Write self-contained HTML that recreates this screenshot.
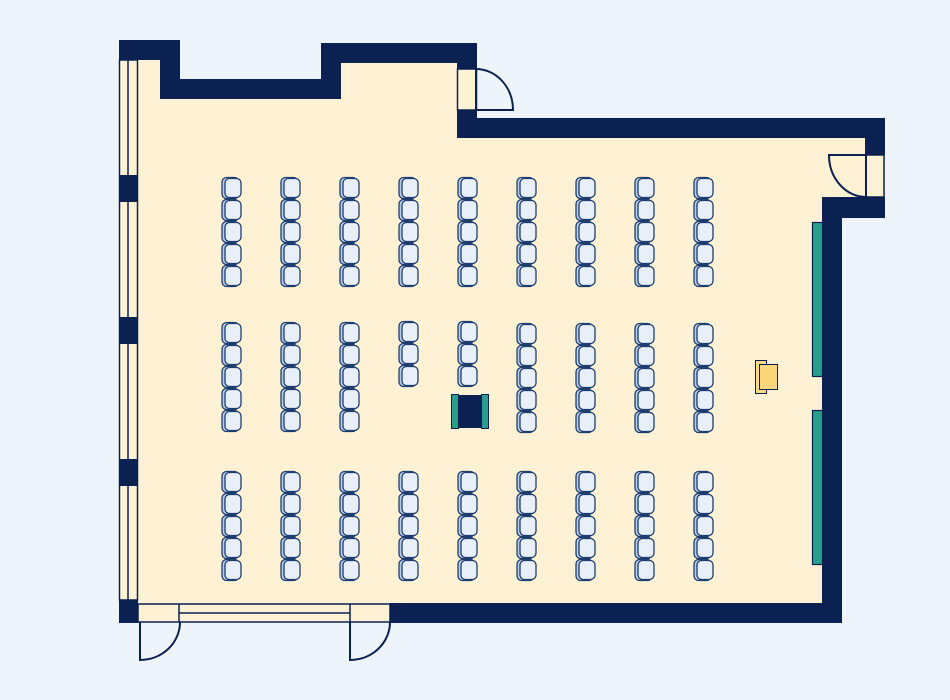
<!DOCTYPE html>
<html><head><style>html,body{margin:0;padding:0;background:#eef4fb;}svg{display:block}</style></head>
<body>
<svg width="950" height="700" viewBox="0 0 950 700" xmlns="http://www.w3.org/2000/svg">
<rect width="950" height="700" fill="#eef4fb"/>
<polygon points="138,60 160,60 160,99 340,99 340,63 457,63 457,138 865,138 865,198 822,198 822,603 138,603" fill="#fff2d4"/>
<g fill="#0b2151">
<rect x="119" y="40" width="61" height="20"/>
<rect x="160" y="40" width="20" height="59"/>
<rect x="160" y="79" width="181" height="20"/>
<rect x="321" y="43" width="20" height="56"/>
<rect x="321" y="43" width="156" height="20"/>
<rect x="457" y="43" width="20" height="26"/>
<rect x="457" y="110" width="20" height="28"/>
<rect x="457" y="118" width="428" height="20"/>
<rect x="865" y="118" width="20" height="37"/>
<rect x="822" y="197" width="63" height="21"/>
<rect x="822" y="197" width="20" height="426"/>
<rect x="390" y="603" width="452" height="20"/>
<rect x="119" y="600" width="19" height="23"/>
</g>
<rect x="119.5" y="60" width="18" height="540" fill="#fff2d4" stroke="#0b2151" stroke-width="1.5"/>
<line x1="128" y1="60" x2="128" y2="600" stroke="#0b2151" stroke-width="1.5"/>
<g fill="#0b2151">
<rect x="119" y="175" width="19" height="27"/>
<rect x="119" y="317" width="19" height="27"/>
<rect x="119" y="459" width="19" height="27"/>
</g>
<rect x="457.5" y="69" width="19" height="41" fill="#fff2d4" stroke="#0b2151" stroke-width="1.5"/>
<path d="M476,69 L476,110 L513,110 A37,41 0 0 0 476,69" fill="none" stroke="#0b2151" stroke-width="2"/>
<rect x="866" y="155" width="18" height="42" fill="#fff2d4" stroke="#0b2151" stroke-width="1.5"/>
<path d="M866,197 L866,155 L829,155 A37,42 0 0 0 866,197" fill="none" stroke="#0b2151" stroke-width="2"/>
<rect x="138" y="604" width="252" height="18" fill="#fff2d4" stroke="#0b2151" stroke-width="1.5"/>
<line x1="179" y1="613" x2="350" y2="613" stroke="#0b2151" stroke-width="1.5"/>
<line x1="179" y1="604" x2="179" y2="622" stroke="#0b2151" stroke-width="1.5"/>
<line x1="350" y1="604" x2="350" y2="622" stroke="#0b2151" stroke-width="1.5"/>
<path d="M140,622 L140,660 A40,38 0 0 0 180,622" fill="none" stroke="#0b2151" stroke-width="2"/>
<path d="M350,622 L350,660 A40,38 0 0 0 390,622" fill="none" stroke="#0b2151" stroke-width="2"/>
<rect x="812.5" y="222.5" width="10" height="154" fill="#2a9d8f" stroke="#0b2151" stroke-width="1.2"/>
<rect x="812.5" y="410.5" width="10" height="154" fill="#2a9d8f" stroke="#0b2151" stroke-width="1.2"/>
<rect x="755.5" y="360.5" width="11" height="33" fill="#f7d98a" stroke="#0b2151" stroke-width="1"/>
<rect x="759.5" y="364.5" width="18" height="25" fill="#fcd77a" stroke="#0b2151" stroke-width="1"/>
<rect x="452" y="395" width="36" height="33" fill="#0b2151"/>
<rect x="451.5" y="394.5" width="7" height="34" fill="#2a9d8f" stroke="#0b2151" stroke-width="1"/>
<rect x="481.5" y="394.5" width="7" height="34" fill="#2a9d8f" stroke="#0b2151" stroke-width="1"/>
<defs>
<g id="c">
<rect x="-10" y="-10.5" width="17" height="21" rx="4.5" fill="#b9cce8" stroke="#1d3e6e" stroke-width="1.3"/>
<rect x="-7" y="-9.5" width="16" height="19" rx="4.5" fill="#e9eff8" stroke="#1d3e6e" stroke-width="1.3"/>
</g>
</defs>
<g>
<use href="#c" x="232" y="188"/><use href="#c" x="232" y="210"/><use href="#c" x="232" y="232"/><use href="#c" x="232" y="254"/><use href="#c" x="232" y="276"/>
<use href="#c" x="291" y="188"/><use href="#c" x="291" y="210"/><use href="#c" x="291" y="232"/><use href="#c" x="291" y="254"/><use href="#c" x="291" y="276"/>
<use href="#c" x="350" y="188"/><use href="#c" x="350" y="210"/><use href="#c" x="350" y="232"/><use href="#c" x="350" y="254"/><use href="#c" x="350" y="276"/>
<use href="#c" x="409" y="188"/><use href="#c" x="409" y="210"/><use href="#c" x="409" y="232"/><use href="#c" x="409" y="254"/><use href="#c" x="409" y="276"/>
<use href="#c" x="468" y="188"/><use href="#c" x="468" y="210"/><use href="#c" x="468" y="232"/><use href="#c" x="468" y="254"/><use href="#c" x="468" y="276"/>
<use href="#c" x="527" y="188"/><use href="#c" x="527" y="210"/><use href="#c" x="527" y="232"/><use href="#c" x="527" y="254"/><use href="#c" x="527" y="276"/>
<use href="#c" x="586" y="188"/><use href="#c" x="586" y="210"/><use href="#c" x="586" y="232"/><use href="#c" x="586" y="254"/><use href="#c" x="586" y="276"/>
<use href="#c" x="645" y="188"/><use href="#c" x="645" y="210"/><use href="#c" x="645" y="232"/><use href="#c" x="645" y="254"/><use href="#c" x="645" y="276"/>
<use href="#c" x="704" y="188"/><use href="#c" x="704" y="210"/><use href="#c" x="704" y="232"/><use href="#c" x="704" y="254"/><use href="#c" x="704" y="276"/>
</g>
<g>
<use href="#c" x="232" y="333"/><use href="#c" x="232" y="355"/><use href="#c" x="232" y="377"/><use href="#c" x="232" y="399"/><use href="#c" x="232" y="421"/>
<use href="#c" x="291" y="333"/><use href="#c" x="291" y="355"/><use href="#c" x="291" y="377"/><use href="#c" x="291" y="399"/><use href="#c" x="291" y="421"/>
<use href="#c" x="350" y="333"/><use href="#c" x="350" y="355"/><use href="#c" x="350" y="377"/><use href="#c" x="350" y="399"/><use href="#c" x="350" y="421"/>
<use href="#c" x="409" y="332"/><use href="#c" x="409" y="354"/><use href="#c" x="409" y="376"/>
<use href="#c" x="468" y="332"/><use href="#c" x="468" y="354"/><use href="#c" x="468" y="376"/>
<use href="#c" x="527" y="334"/><use href="#c" x="527" y="356"/><use href="#c" x="527" y="378"/><use href="#c" x="527" y="400"/><use href="#c" x="527" y="422"/>
<use href="#c" x="586" y="334"/><use href="#c" x="586" y="356"/><use href="#c" x="586" y="378"/><use href="#c" x="586" y="400"/><use href="#c" x="586" y="422"/>
<use href="#c" x="645" y="334"/><use href="#c" x="645" y="356"/><use href="#c" x="645" y="378"/><use href="#c" x="645" y="400"/><use href="#c" x="645" y="422"/>
<use href="#c" x="704" y="334"/><use href="#c" x="704" y="356"/><use href="#c" x="704" y="378"/><use href="#c" x="704" y="400"/><use href="#c" x="704" y="422"/>
</g>
<g>
<use href="#c" x="232" y="482"/><use href="#c" x="232" y="504"/><use href="#c" x="232" y="526"/><use href="#c" x="232" y="548"/><use href="#c" x="232" y="570"/>
<use href="#c" x="291" y="482"/><use href="#c" x="291" y="504"/><use href="#c" x="291" y="526"/><use href="#c" x="291" y="548"/><use href="#c" x="291" y="570"/>
<use href="#c" x="350" y="482"/><use href="#c" x="350" y="504"/><use href="#c" x="350" y="526"/><use href="#c" x="350" y="548"/><use href="#c" x="350" y="570"/>
<use href="#c" x="409" y="482"/><use href="#c" x="409" y="504"/><use href="#c" x="409" y="526"/><use href="#c" x="409" y="548"/><use href="#c" x="409" y="570"/>
<use href="#c" x="468" y="482"/><use href="#c" x="468" y="504"/><use href="#c" x="468" y="526"/><use href="#c" x="468" y="548"/><use href="#c" x="468" y="570"/>
<use href="#c" x="527" y="482"/><use href="#c" x="527" y="504"/><use href="#c" x="527" y="526"/><use href="#c" x="527" y="548"/><use href="#c" x="527" y="570"/>
<use href="#c" x="586" y="482"/><use href="#c" x="586" y="504"/><use href="#c" x="586" y="526"/><use href="#c" x="586" y="548"/><use href="#c" x="586" y="570"/>
<use href="#c" x="645" y="482"/><use href="#c" x="645" y="504"/><use href="#c" x="645" y="526"/><use href="#c" x="645" y="548"/><use href="#c" x="645" y="570"/>
<use href="#c" x="704" y="482"/><use href="#c" x="704" y="504"/><use href="#c" x="704" y="526"/><use href="#c" x="704" y="548"/><use href="#c" x="704" y="570"/>
</g>
</svg>
</body></html>
